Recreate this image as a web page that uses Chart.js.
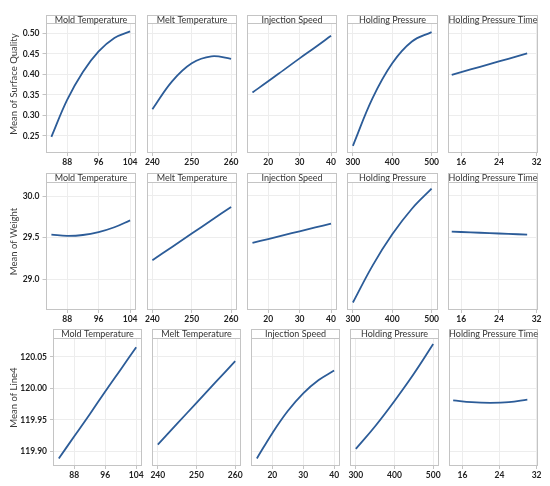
<!DOCTYPE html>
<html>
<head>
<meta charset="utf-8">
<script src="https://cdn.jsdelivr.net/npm/chart.js@4.4.1/dist/chart.umd.min.js"></script>
<style>
  html, body { margin: 0; padding: 0; background: #fff; }
  #wrap { position: relative; width: 550px; height: 486px; overflow: hidden; }
  #wrap canvas { position: absolute; }
</style>
</head>
<body>
<div id="wrap"></div>
<script>
// factor levels (x values)
const moldTemp = [84, 88, 92, 96, 100, 104];
const meltTemp = [240, 245, 250, 255, 260];
const injSpeed = [15, 20, 25, 30, 35, 40];
const holdPress = [300, 350, 400, 450, 500];
const holdTime = [14, 18, 22, 26, 30];

// Mean of Surface Quality
const surfaceMold = [0.248, 0.338, 0.406, 0.456, 0.489, 0.505];
const surfaceMelt = [0.315, 0.383, 0.427, 0.444, 0.438];
const surfaceSpeed = [0.356, 0.383, 0.411, 0.439, 0.466, 0.494];
const surfacePress = [0.226, 0.342, 0.427, 0.480, 0.503];
const surfaceTime = [0.399, 0.412, 0.425, 0.438, 0.451];

// Mean of Weight
const weightMold = [29.537, 29.523, 29.533, 29.568, 29.626, 29.709];
const weightMelt = [29.231, 29.390, 29.550, 29.709, 29.868];
const weightSpeed = [29.438, 29.484, 29.530, 29.577, 29.623, 29.669];
const weightPress = [28.724, 29.166, 29.540, 29.847, 30.087];
const weightTime = [29.573, 29.564, 29.555, 29.546, 29.537];

// Mean of Line4
const line4Mold = [119.889, 119.924, 119.959, 119.995, 120.030, 120.065];
const line4Melt = [119.911, 119.944, 119.977, 120.010, 120.043];
const line4Speed = [119.889, 119.929, 119.964, 119.992, 120.013, 120.028];
const line4Press = [119.904, 119.940, 119.980, 120.023, 120.070];
const line4Time = [119.981, 119.978, 119.977, 119.978, 119.982];

// tick labels
const moldTicks = [88, 96, 104];
const meltTicks = [240, 250, 260];
const speedTicks = [20, 30, 40];
const pressTicks = [300, 400, 500];
const timeTicks = [16, 24, 32];
const surfaceTicks = [0.25, 0.30, 0.35, 0.40, 0.45, 0.50];
const weightTicks = [29.0, 29.5, 30.0];
const line4Ticks = [119.90, 119.95, 120.00, 120.05];

const factorNames = ["Mold Temperature", "Melt Temperature", "Injection Speed", "Holding Pressure", "Holding Pressure Time"];
const responseNames = ["Mean of Surface Quality", "Mean of Weight", "Mean of Line4"];

const LINE = "#2c5c98";
const GRID = "#ededed";
const FRAME = "#c4c4c4";
const TEXT = "#222";
const FONT = "Lato, 'Noto Sans', sans-serif";

const factors = [
  { name: factorNames[0], levels: moldTemp, ticks: moldTicks, min: 82.5, max: 105.5 },
  { name: factorNames[1], levels: meltTemp, ticks: meltTicks, min: 238.5, max: 261.5 },
  { name: factorNames[2], levels: injSpeed, ticks: speedTicks, min: 13.1, max: 41.9 },
  { name: factorNames[3], levels: holdPress, ticks: pressTicks, min: 285, max: 515 },
  { name: factorNames[4], levels: holdTime, ticks: timeTicks, min: 13.1, max: 32.3 },
];

// min/max are the values at the bottom edge and at the header line of each plot area
const responses = [
  { title: responseNames[0], series: [surfaceMold, surfaceMelt, surfaceSpeed, surfacePress, surfaceTime],
    ticks: surfaceTicks, min: 0.2085, max: 0.5244, digits: 2,
    top: 15, head: 23.3, bottom: 153, lefts: [45.5, 146.5, 246.5, 347, 447.5], width: 90.5 },
  { title: responseNames[1], series: [weightMold, weightMelt, weightSpeed, weightPress, weightTime],
    ticks: weightTicks, min: 28.634, max: 30.171, digits: 1,
    top: 173, head: 181.7, bottom: 310.3, lefts: [45.5, 146.5, 246.5, 347, 447.5], width: 90.5 },
  { title: responseNames[2], series: [line4Mold, line4Melt, line4Speed, line4Press, line4Time],
    ticks: line4Ticks, min: 119.877, max: 120.08, digits: 2,
    top: 329, head: 337.7, bottom: 465.5, lefts: [53, 152, 251, 350, 449], width: 89 },
];

// frame + header strip; the header sits inside the top of the chart area
const panelFrame = {
  id: "panelFrame",
  afterDraw(chart, args, opts) {
    const { ctx, chartArea: a } = chart;
    const l = Math.round(a.left) + 0.5;
    const r = Math.round(a.right) - 0.5;
    const t = Math.round(a.top) + 0.5;
    const hb = Math.round(a.top + opts.headH) + 0.5;
    const b = Math.round(a.bottom) - 0.5;
    ctx.save();
    ctx.fillStyle = "#fff";
    ctx.fillRect(l, t, r - l, hb - t);
    ctx.strokeStyle = FRAME;
    ctx.lineWidth = 1;
    ctx.strokeRect(l, t, r - l, b - t);
    ctx.beginPath();
    ctx.moveTo(l, hb);
    ctx.lineTo(r, hb);
    ctx.stroke();
    ctx.fillStyle = "#333";
    ctx.font = "9px " + FONT;
    ctx.textAlign = "center";
    ctx.textBaseline = "middle";
    ctx.fillText(opts.text, (l + r) / 2, (t + hb) / 2 + 0.5);
    ctx.restore();
  },
};

const wrap = document.getElementById("wrap");
const PAD = 12;
const TOP_PAD = 8;
const XAXIS_H = 16;

responses.forEach((resp) => {
  const headH = resp.head - resp.top;
  const yMax = resp.max + headH * (resp.max - resp.min) / (resp.bottom - resp.head);

  factors.forEach((f, c) => {
    const first = c === 0;
    const canvasLeft = first ? 0 : Math.floor(resp.lefts[c] - PAD);
    const canvasTop = Math.floor(resp.top - TOP_PAD);
    const w = Math.ceil(resp.lefts[c] + resp.width + PAD - canvasLeft);
    const h = Math.round(resp.bottom - canvasTop + XAXIS_H);
    const yW = resp.lefts[c] - canvasLeft;
    const rightPad = w - yW - resp.width;

    const canvas = document.createElement("canvas");
    canvas.width = w;
    canvas.height = h;
    canvas.style.left = canvasLeft + "px";
    canvas.style.top = canvasTop + "px";
    canvas.style.width = w + "px";
    canvas.style.height = h + "px";
    wrap.appendChild(canvas);

    new Chart(canvas.getContext("2d"), {
      type: "line",
      data: {
        datasets: [
          {
            data: f.levels.map((x, i) => ({ x: x, y: resp.series[c][i] })),
            borderColor: LINE,
            borderWidth: 1.8,
            pointRadius: 0,
            tension: 0.4,
            fill: false,
          },
        ],
      },
      options: {
        responsive: false,
        animation: false,
        events: [],
        layout: {
          padding: { top: resp.top - canvasTop, right: rightPad, left: 0, bottom: 0 },
        },
        plugins: {
          legend: { display: false },
          tooltip: { enabled: false },
          panelFrame: { text: f.name, headH: headH },
        },
        scales: {
          x: {
            type: "linear",
            min: f.min,
            max: f.max,
            afterBuildTicks: (s) => {
              s.ticks = f.ticks.map((v) => ({ value: v }));
            },
            afterFit: (s) => {
              s.height = XAXIS_H;
            },
            grid: { color: GRID, tickColor: FRAME, tickLength: 3 },
            border: { display: false },
            ticks: {
              autoSkip: false,
              maxRotation: 0,
              padding: 1,
              color: TEXT,
              font: { family: FONT, size: 8.5, weight: "bold" },
              callback: (v) => String(v),
            },
          },
          y: {
            type: "linear",
            min: resp.min,
            max: yMax,
            afterBuildTicks: (s) => {
              s.ticks = resp.ticks.map((v) => ({ value: v }));
            },
            afterFit: (s) => {
              s.width = yW;
            },
            grid: { color: GRID, tickColor: FRAME, tickLength: 3, drawTicks: first },
            border: { display: false },
            ticks: {
              display: first,
              padding: 3,
              color: TEXT,
              font: { family: FONT, size: 8.5, weight: "bold" },
              callback: (v) => Number(v).toFixed(resp.digits),
            },
            title: {
              display: first,
              text: resp.title,
              color: "#3a3a3a",
              padding: { top: 8, bottom: 0 },
              font: { family: FONT, size: 9.5 },
            },
          },
        },
      },
      plugins: [panelFrame],
    });
  });
});
</script>
</body>
</html>
